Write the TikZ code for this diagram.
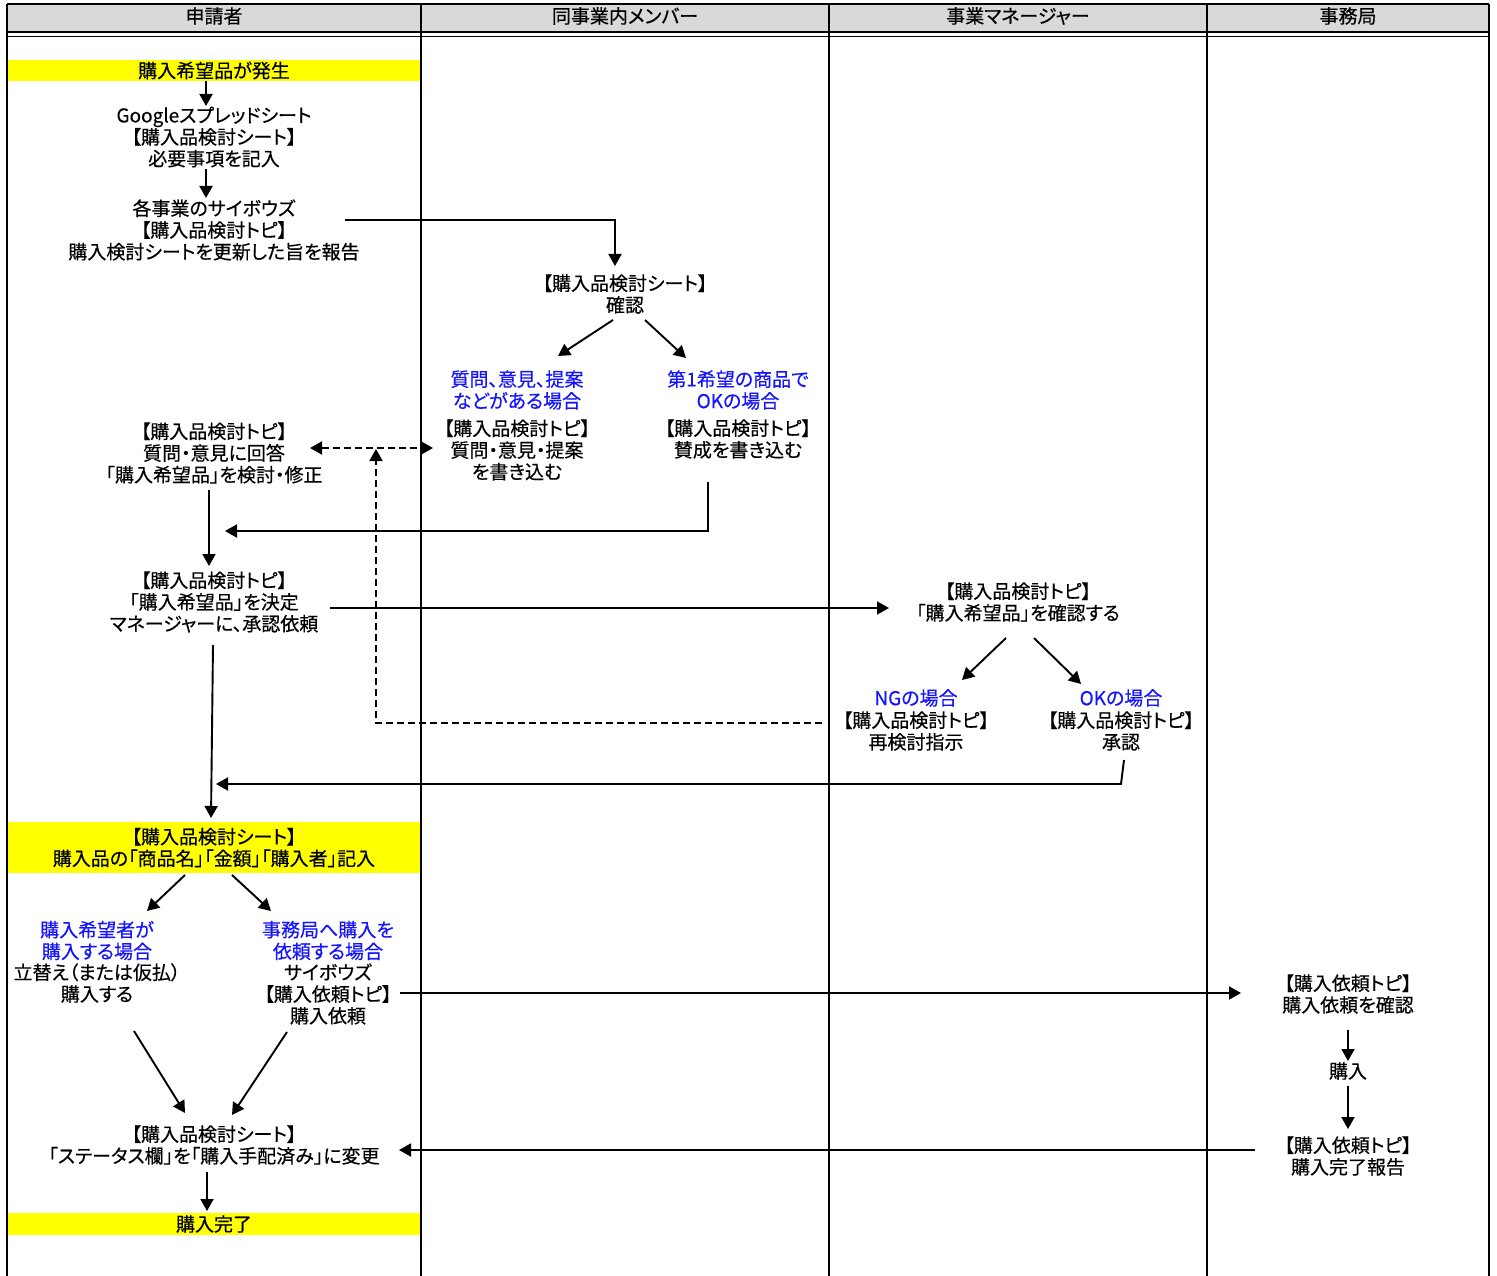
\documentclass[tikz,border=0pt]{standalone}
\usepackage{fontspec}
\setmainfont{Noto Sans CJK JP}[RawFeature=+palt,FakeBold=0.4]
\usetikzlibrary{arrows.meta}
\definecolor{hdr}{RGB}{217,217,217}
\definecolor{lblue}{RGB}{20,20,255}
\definecolor{ybar}{RGB}{255,255,0}
\begin{document}
\begin{tikzpicture}[x=1pt,y=-1pt,
  txt/.style={align=center,inner sep=0pt,font=\fontsize{19}{21.7}\selectfont},
  btxt/.style={txt,text=lblue},
  bar/.style={txt,fill=ybar,minimum width=412pt},
  arr/.style={line width=1.9pt,-{Triangle[length=12pt,width=13pt]}},
  darr/.style={line width=1.9pt,dash pattern=on 7pt off 4pt},
  ln/.style={line width=1.9pt}
]
\useasboundingbox (0,0) rectangle (1497,1276);
% header
\fill[hdr] (7,4) rectangle (1489,32);
\draw[ln] (7,4) -- (1489,4);
\draw[ln] (7,32) -- (1489,32);
\draw[ln] (7,36.5) -- (1489,36.5);
\foreach \x in {7,421,829,1207,1489} \draw[ln] (\x,4) -- (\x,1276);
\node[txt] (h1) at (214,16) {申請者};
\node[txt] (h2) at (625,16) {同事業内メンバー};
\node[txt] (h3) at (1018,16) {事業マネージャー};
\node[txt] (h4) at (1348,16) {事務局};

% lane 1
\node[bar,minimum height=21pt] (b1) at (214,70.5) {購入希望品が発生};
\node[txt] (n2) at (214,137) {Googleスプレッドシート\\【購入品検討シート】\\必要事項を記入};
\node[txt] (n3) at (214,230) {各事業のサイボウズ\\【購入品検討トピ】\\購入検討シートを更新した旨を報告};
\node[txt] (n7) at (214,453) {【購入品検討トピ】\\質問・意見に回答\\「購入希望品」を検討・修正};
\node[txt] (n8) at (214,602) {【購入品検討トピ】\\「購入希望品」を決定\\マネージャーに、承認依頼};
\node[bar,minimum height=51pt] (b2) at (214,847.5) {【購入品検討シート】\\購入品の「商品名」「金額」「購入者」記入};
\node[btxt] (n13b) at (97,940.5) {購入希望者が\\購入する場合};
\node[txt] (n13) at (97,983) {立替え（または仮払）\\購入する};
\node[btxt] (n14b) at (328,940.5) {事務局へ購入を\\依頼する場合};
\node[txt] (n14) at (328,994) {サイボウズ\\【購入依頼トピ】\\購入依頼};
\node[txt] (n15) at (214,1145) {【購入品検討シート】\\「ステータス欄」を「購入手配済み」に変更};
\node[bar,minimum height=22pt] (b3) at (214,1224) {購入完了};

% lane 2
\node[txt] (n4) at (625,294) {【購入品検討シート】\\確認};
\node[btxt] (n5b) at (517,390) {質問、意見、提案\\などがある場合};
\node[txt] (n5) at (517,450) {【購入品検討トピ】\\質問・意見・提案\\を書き込む};
\node[btxt] (n6b) at (738,390) {第1希望の商品で\\OKの場合};
\node[txt] (n6) at (738,439) {【購入品検討トピ】\\賛成を書き込む};

% lane 3
\node[txt] (n9) at (1018,602) {【購入品検討トピ】\\「購入希望品」を確認する};
\node[btxt] (n10b) at (916,698) {NGの場合};
\node[txt] (n10) at (916,731) {【購入品検討トピ】\\再検討指示};
\node[btxt] (n11b) at (1121,698) {OKの場合};
\node[txt] (n11) at (1121,731) {【購入品検討トピ】\\承認};

% lane 4
\node[txt] (n17) at (1348,994) {【購入依頼トピ】\\購入依頼を確認};
\node[txt] (n18) at (1348,1071) {購入};
\node[txt] (n19) at (1348,1156) {【購入依頼トピ】\\購入完了報告};

% connector coordinates
\coordinate (a1s) at (206,81);   \coordinate (a1e) at (206,106);
\coordinate (a2s) at (206,169);  \coordinate (a2e) at (206,198);
\coordinate (a3s) at (345,220);  \coordinate (a3e) at (615,266);
\coordinate (a4s) at (613,320);  \coordinate (a4e) at (558,356);
\coordinate (a5s) at (645,320);  \coordinate (a5e) at (686,358);
\coordinate (a6s) at (708,482);  \coordinate (a6e) at (225,531);
\coordinate (a7s) at (310,448);  \coordinate (a7e) at (433,448);
\coordinate (a8s) at (822,723);  \coordinate (a8e) at (376,449);
\coordinate (a9s) at (209,490);  \coordinate (a9e) at (209,566);
\coordinate (a10s) at (330,608); \coordinate (a10e) at (889,608);
\coordinate (a11s) at (213,645); \coordinate (a11e) at (211,818);
\coordinate (a12s) at (1006,638);\coordinate (a12e) at (962,680);
\coordinate (a13s) at (1034,638);\coordinate (a13e) at (1081,684);
\coordinate (a14s) at (1124,760);\coordinate (a14m) at (1121,784); \coordinate (a14e) at (216,784);
\coordinate (a15s) at (185,875); \coordinate (a15e) at (147,911);
\coordinate (a16s) at (232,875); \coordinate (a16e) at (271,911);
\coordinate (a17s) at (400,993); \coordinate (a17e) at (1241,993);
\coordinate (a18s) at (134,1031);\coordinate (a18e) at (185,1113);
\coordinate (a19s) at (287,1032);\coordinate (a19e) at (232,1115);
\coordinate (a20s) at (1255,1150);\coordinate (a20e) at (399,1150);
\coordinate (a21s) at (207,1172);\coordinate (a21e) at (207,1211);
\coordinate (a22s) at (1348,1030);\coordinate (a22e) at (1348,1061);
\coordinate (a23s) at (1348,1086);\coordinate (a23e) at (1348,1129);

\draw[arr] (a1s) -- (a1e);
\draw[arr] (a2s) -- (a2e);
\draw[arr] (a3s) -| (a3e);
\draw[arr] (a4s) -- (a4e);
\draw[arr] (a5s) -- (a5e);
\draw[arr] (a6s) |- (a6e);
\draw[darr,{Triangle[length=12pt,width=13pt]}-{Triangle[length=12pt,width=13pt]}] (a7s) -- (a7e);
\draw[darr,-{Triangle[length=12pt,width=13pt]}] (a8s) -| (a8e);
\draw[arr] (a9s) -- (a9e);
\draw[arr] (a10s) -- (a10e);
\draw[arr] (a11s) -- (a11e);
\draw[arr] (a12s) -- (a12e);
\draw[arr] (a13s) -- (a13e);
\draw[arr] (a14s) -- (a14m) -- (a14e);
\draw[arr] (a15s) -- (a15e);
\draw[arr] (a16s) -- (a16e);
\draw[arr] (a17s) -- (a17e);
\draw[arr] (a18s) -- (a18e);
\draw[arr] (a19s) -- (a19e);
\draw[arr] (a20s) -- (a20e);
\draw[arr] (a21s) -- (a21e);
\draw[arr] (a22s) -- (a22e);
\draw[arr] (a23s) -- (a23e);
\end{tikzpicture}
\end{document}
